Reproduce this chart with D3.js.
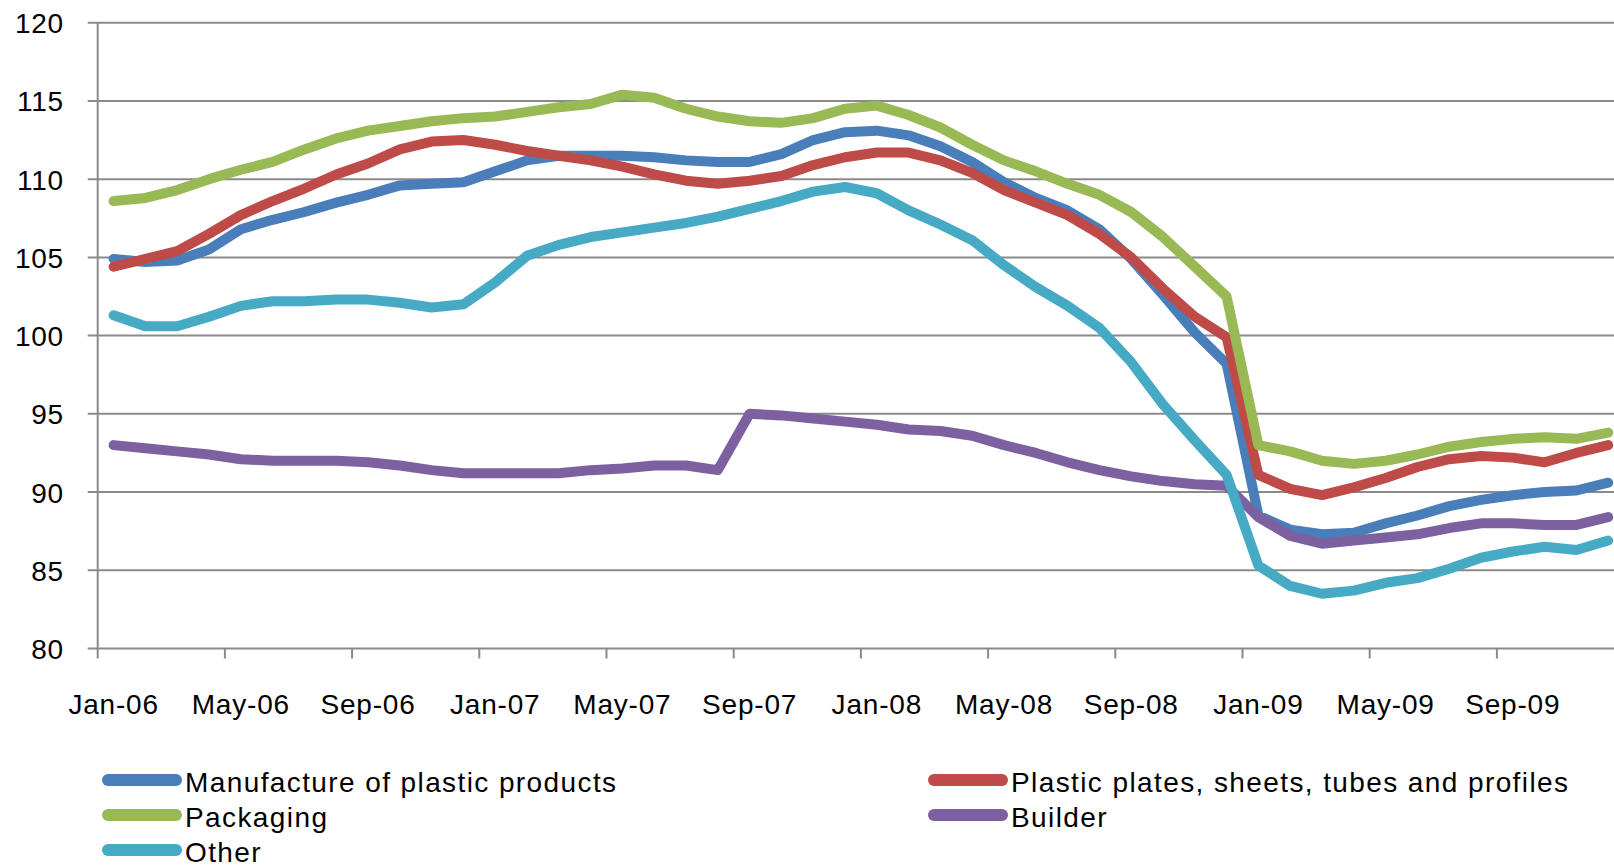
<!DOCTYPE html>
<html lang="en">
<head>
<meta charset="utf-8">
<title>Plastics production index 2006-2009</title>
<script src="https://cdn.jsdelivr.net/npm/d3@7"></script>
<style>
  body { margin: 0; background: #fff; }
  svg { display: block; font-family: "Liberation Sans", Arial, sans-serif; }
</style>
</head>
<body>
<div id="chart"></div>
<script>
// months on the x axis (Jan-06 .. Dec-09)
var months = [
  "Jan-06","Feb-06","Mar-06","Apr-06","May-06","Jun-06","Jul-06","Aug-06","Sep-06","Oct-06","Nov-06","Dec-06",
  "Jan-07","Feb-07","Mar-07","Apr-07","May-07","Jun-07","Jul-07","Aug-07","Sep-07","Oct-07","Nov-07","Dec-07",
  "Jan-08","Feb-08","Mar-08","Apr-08","May-08","Jun-08","Jul-08","Aug-08","Sep-08","Oct-08","Nov-08","Dec-08",
  "Jan-09","Feb-09","Mar-09","Apr-09","May-09","Jun-09","Jul-09","Aug-09","Sep-09","Oct-09","Nov-09","Dec-09"
];
// labels shown under the axis
var tickLabels = ["Jan-06","May-06","Sep-06","Jan-07","May-07","Sep-07","Jan-08","May-08","Sep-08","Jan-09","May-09","Sep-09"];
var yTicks = [80, 85, 90, 95, 100, 105, 110, 115, 120];

var seriesNames = ["Manufacture of plastic products", "Plastic plates, sheets, tubes and profiles", "Packaging", "Builder", "Other"];
var seriesColors = ["#4a7ebb", "#be4b48", "#98b954", "#7d60a0", "#46aac5"];

var manufacture = [104.9,104.7,104.8,105.5,106.8,107.4,107.9,108.5,109.0,109.6,109.7,109.8,
                   110.5,111.2,111.5,111.5,111.5,111.4,111.2,111.1,111.1,111.6,112.5,113.0,
                   113.1,112.8,112.1,111.1,109.8,108.8,108.0,106.8,104.9,102.6,100.2,98.2,
                   88.5,87.6,87.3,87.4,88.0,88.5,89.1,89.5,89.8,90.0,90.1,90.6];
var plates = [104.4,104.9,105.4,106.5,107.7,108.6,109.4,110.3,111.0,111.9,112.4,112.5,
              112.2,111.8,111.5,111.2,110.8,110.3,109.9,109.7,109.9,110.2,110.9,111.4,
              111.7,111.7,111.2,110.4,109.3,108.5,107.7,106.5,105.0,103.0,101.2,99.9,
              91.1,90.2,89.8,90.3,90.9,91.6,92.1,92.3,92.2,91.9,92.5,93.0];
var packaging = [108.6,108.8,109.3,110.0,110.6,111.1,111.9,112.6,113.1,113.4,113.7,113.9,
                 114.0,114.3,114.6,114.8,115.4,115.2,114.5,114.0,113.7,113.6,113.9,114.5,
                 114.7,114.1,113.3,112.2,111.2,110.5,109.7,109.0,107.9,106.3,104.4,102.5,
                 93.0,92.6,92.0,91.8,92.0,92.4,92.9,93.2,93.4,93.5,93.4,93.8];
var builder = [93.0,92.8,92.6,92.4,92.1,92.0,92.0,92.0,91.9,91.7,91.4,91.2,
               91.2,91.2,91.2,91.4,91.5,91.7,91.7,91.4,95.0,94.9,94.7,94.5,
               94.3,94.0,93.9,93.6,93.0,92.5,91.9,91.4,91.0,90.7,90.5,90.4,
               88.4,87.2,86.7,86.9,87.1,87.3,87.7,88.0,88.0,87.9,87.9,88.4];
var other = [101.3,100.6,100.6,101.2,101.9,102.2,102.2,102.3,102.3,102.1,101.8,102.0,
             103.4,105.1,105.8,106.3,106.6,106.9,107.2,107.6,108.1,108.6,109.2,109.5,
             109.1,108.0,107.1,106.1,104.5,103.1,101.9,100.5,98.3,95.6,93.3,91.1,
             85.3,84.0,83.5,83.7,84.2,84.5,85.1,85.8,86.2,86.5,86.3,86.9];

var seriesValues = [manufacture, plates, packaging, builder, other];

var w = 1614, h = 868;
var plotLeft = 97.7, plotTop = 22.7, plotBottom = 648.5, monthW = 31.8;

var svg = d3.select("#chart").append("svg")
    .attr("width", w)
    .attr("height", h);

// scales
var xScale = d3.scaleBand()
    .domain(months)
    .range([plotLeft, plotLeft + months.length * monthW]);
var yScale = d3.scaleLinear()
    .domain([80, 120])
    .range([plotBottom, plotTop]);

// gridlines
svg.append("g").selectAll("line")
   .data(yTicks)
   .enter().append("line")
   .attr("x1", plotLeft - 10)
   .attr("x2", w)
   .attr("y1", function(d){ return yScale(d); })
   .attr("y2", function(d){ return yScale(d); })
   .attr("stroke", "#8a8a8a")
   .attr("stroke-width", 2);

// y axis line
svg.append("line")
   .attr("x1", plotLeft).attr("x2", plotLeft)
   .attr("y1", plotTop).attr("y2", plotBottom)
   .attr("stroke", "#8a8a8a")
   .attr("stroke-width", 2);

// y labels
svg.append("g").selectAll("text")
   .data(yTicks)
   .enter().append("text")
   .attr("x", 64)
   .attr("y", function(d){ return yScale(d) + 10.5; })
   .attr("text-anchor", "end")
   .attr("font-size", "28px")
   .attr("letter-spacing", "0.8px")
   .attr("fill", "#000")
   .text(function(d){ return d; });

// x tick marks sit on the category boundaries
svg.append("g").selectAll("line")
   .data(tickLabels)
   .enter().append("line")
   .attr("x1", function(d){ return xScale(d); })
   .attr("x2", function(d){ return xScale(d); })
   .attr("y1", plotBottom)
   .attr("y2", plotBottom + 10)
   .attr("stroke", "#8a8a8a")
   .attr("stroke-width", 2);

// x labels
var xAxis = d3.axisBottom(xScale)
    .tickValues(tickLabels)
    .tickSize(0)
    .tickPadding(0);
var gx = svg.append("g")
   .attr("transform", "translate(0," + plotBottom + ")")
   .call(xAxis);
gx.select(".domain").remove();
gx.selectAll("text")
  .attr("y", 65.5)
  .attr("dy", null)
  .attr("font-size", "28px")
  .attr("font-family", "Liberation Sans, Arial, sans-serif")
  .attr("letter-spacing", "0.8px")
  .attr("fill", "#000");

// lines
var line = d3.line()
    .x(function(d, i){ return xScale(months[i]) + xScale.bandwidth() / 2; })
    .y(function(d){ return yScale(d); });

svg.append("g").selectAll("path")
   .data(seriesValues)
   .enter().append("path")
   .attr("d", line)
   .attr("fill", "none")
   .attr("stroke", function(d, i){ return seriesColors[i]; })
   .attr("stroke-width", 10)
   .attr("stroke-linejoin", "round")
   .attr("stroke-linecap", "round");

// legend, two columns
var legendCols = [108, 934];
var legendRows = [780, 815, 850];
var legend = svg.append("g").selectAll("g")
   .data(seriesNames)
   .enter().append("g")
   .attr("transform", function(d, i){
       return "translate(" + legendCols[i % 2] + "," + legendRows[Math.floor(i / 2)] + ")";
   });
legend.append("line")
   .attr("x1", 0).attr("x2", 68)
   .attr("y1", 0).attr("y2", 0)
   .attr("stroke", function(d, i){ return seriesColors[i]; })
   .attr("stroke-width", 12)
   .attr("stroke-linecap", "round");
legend.append("text")
   .attr("x", 77)
   .attr("y", 12)
   .attr("font-size", "28px")
   .attr("letter-spacing", "1.4px")
   .attr("fill", "#000")
   .text(function(d){ return d; });
</script>
</body>
</html>
